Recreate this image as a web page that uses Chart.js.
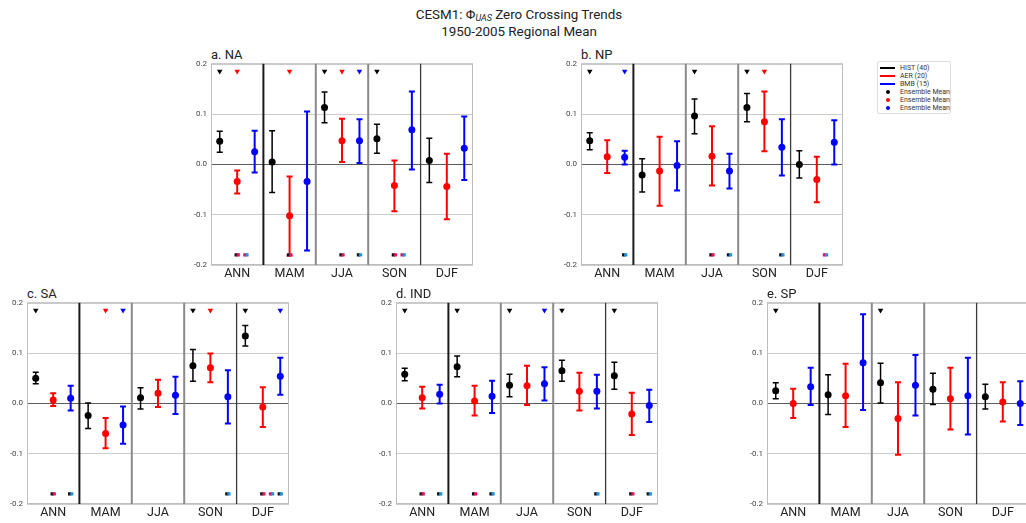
<!DOCTYPE html>
<html>
<head>
<meta charset="utf-8">
<script src="https://cdn.jsdelivr.net/npm/chart.js@4.4.0/dist/chart.umd.min.js"></script>
<style>
  html, body { margin: 0; padding: 0; background: #fff; overflow: hidden; }
  body { width: 1026px; height: 523px; position: relative; font-family: Roboto, "DejaVu Sans", sans-serif; color: #222; }
  .title { position: absolute; left: 319px; width: 400px; top: 7px; text-align: center; font-size: 13.4px; line-height: 16.5px; }
  .title sub { font-size: 9px; vertical-align: -2px; line-height: 0; }
  .panel-name { position: absolute; font-size: 13px; line-height: 13px; white-space: nowrap; }
  canvas { position: absolute; }
  .legend { position: absolute; left: 877px; top: 61px; width: 74px; height: 53px; border: 1px solid #dcdcdc; border-radius: 2px;
            box-sizing: border-box; padding-top: 2px; font-size: 7px; color: #333; }
  .legend .row { position: relative; height: 8px; line-height: 8px; padding-left: 22px; white-space: nowrap; }
  .legend .ln { position: absolute; left: 2px; top: 3px; width: 15px; height: 2px; }
  .legend .dot { position: absolute; left: 8px; top: 2px; width: 4px; height: 4px; border-radius: 50%; }
</style>
</head>
<body>
<div class="title">CESM1: Φ<sub><i>UAS</i></sub> Zero Crossing Trends<br>1950-2005 Regional Mean</div>

<div class="legend">
  <div class="row"><span class="ln" style="background:#000"></span>HIST (40)</div>
  <div class="row"><span class="ln" style="background:#ff0000"></span>AER (20)</div>
  <div class="row"><span class="ln" style="background:#0000ff"></span>BMB (15)</div>
  <div class="row"><span class="dot" style="background:#000"></span>Ensemble Mean</div>
  <div class="row"><span class="dot" style="background:#ff0000"></span>Ensemble Mean</div>
  <div class="row"><span class="dot" style="background:#0000ff"></span>Ensemble Mean</div>
</div>

<script>
const seasons = ['ANN', 'MAM', 'JJA', 'SON', 'DJF'];
const yTicks = [-0.2, -0.1, 0.0, 0.1, 0.2];

// a. NA
const naHist = [0.046, 0.005, 0.113, 0.051, 0.008];
const naHistLo = [0.024, -0.056, 0.083, 0.022, -0.036];
const naHistHi = [0.066, 0.067, 0.144, 0.080, 0.052];
const naAer = [-0.034, -0.102, 0.047, -0.042, -0.044];
const naAerLo = [-0.058, -0.181, 0.005, -0.093, -0.109];
const naAerHi = [-0.012, -0.024, 0.091, 0.008, 0.021];
const naBmb = [0.025, -0.034, 0.047, 0.069, 0.032];
const naBmbLo = [-0.016, -0.171, 0.003, -0.010, -0.031];
const naBmbHi = [0.067, 0.105, 0.090, 0.145, 0.095];
const naSigHist = [1, 0, 1, 1, 0];
const naSigAer = [1, 1, 1, 0, 0];
const naSigBmb = [0, 0, 1, 0, 0];
const naDiffHistAer = [1, 1, 1, 1, 0];
const naDiffAerBmb = [1, 0, 0, 1, 0];
const naDiffHistBmb = [0, 0, 1, 0, 0];

// b. NP
const npHist = [0.047, -0.021, 0.096, 0.113, 0.000];
const npHistLo = [0.029, -0.055, 0.061, 0.085, -0.027];
const npHistHi = [0.063, 0.011, 0.130, 0.141, 0.027];
const npAer = [0.015, -0.013, 0.016, 0.085, -0.030];
const npAerLo = [-0.017, -0.082, -0.042, 0.026, -0.075];
const npAerHi = [0.048, 0.055, 0.076, 0.145, 0.015];
const npBmb = [0.014, -0.002, -0.013, 0.034, 0.044];
const npBmbLo = [0.000, -0.052, -0.048, -0.022, 0.000];
const npBmbHi = [0.027, 0.046, 0.021, 0.090, 0.088];
const npSigHist = [1, 0, 1, 1, 0];
const npSigAer = [0, 0, 0, 1, 0];
const npSigBmb = [1, 0, 0, 0, 0];
const npDiffHistAer = [0, 0, 1, 0, 0];
const npDiffAerBmb = [0, 0, 0, 0, 1];
const npDiffHistBmb = [1, 0, 1, 1, 0];

// c. SA
const saHist = [0.050, -0.024, 0.011, 0.075, 0.134];
const saHistLo = [0.039, -0.050, -0.011, 0.044, 0.114];
const saHistHi = [0.062, 0.001, 0.031, 0.107, 0.155];
const saAer = [0.007, -0.060, 0.020, 0.071, -0.007];
const saAerLo = [-0.005, -0.089, -0.007, 0.042, -0.047];
const saAerHi = [0.020, -0.029, 0.047, 0.099, 0.032];
const saBmb = [0.010, -0.043, 0.016, 0.013, 0.054];
const saBmbLo = [-0.014, -0.080, -0.021, -0.040, 0.017];
const saBmbHi = [0.035, -0.006, 0.053, 0.066, 0.091];
const saSigHist = [1, 0, 0, 1, 1];
const saSigAer = [0, 1, 0, 1, 0];
const saSigBmb = [0, 1, 0, 0, 1];
const saDiffHistAer = [1, 0, 0, 0, 1];
const saDiffAerBmb = [0, 0, 0, 0, 1];
const saDiffHistBmb = [1, 0, 0, 1, 1];

// d. IND
const indHist = [0.058, 0.073, 0.036, 0.065, 0.055];
const indHistLo = [0.045, 0.053, 0.013, 0.044, 0.028];
const indHistHi = [0.070, 0.094, 0.058, 0.086, 0.082];
const indAer = [0.011, 0.005, 0.035, 0.024, -0.021];
const indAerLo = [-0.010, -0.024, -0.003, -0.014, -0.063];
const indAerHi = [0.033, 0.035, 0.075, 0.061, 0.021];
const indBmb = [0.018, 0.014, 0.039, 0.024, -0.004];
const indBmbLo = [0.000, -0.019, 0.006, -0.010, -0.037];
const indBmbHi = [0.037, 0.045, 0.072, 0.057, 0.027];
const indSigHist = [1, 1, 1, 1, 1];
const indSigAer = [0, 0, 0, 0, 0];
const indSigBmb = [0, 0, 1, 0, 0];
const indDiffHistAer = [1, 1, 0, 0, 1];
const indDiffAerBmb = [0, 0, 0, 0, 0];
const indDiffHistBmb = [1, 1, 0, 1, 1];

// e. SP
const spHist = [0.025, 0.017, 0.041, 0.028, 0.013];
const spHistLo = [0.009, -0.022, 0.001, -0.002, -0.011];
const spHistHi = [0.041, 0.057, 0.080, 0.060, 0.038];
const spAer = [0.000, 0.015, -0.030, 0.009, 0.003];
const spAerLo = [-0.029, -0.047, -0.102, -0.052, -0.036];
const spAerHi = [0.029, 0.079, 0.042, 0.071, 0.042];
const spBmb = [0.033, 0.081, 0.036, 0.015, 0.000];
const spBmbLo = [-0.003, -0.013, -0.024, -0.062, -0.043];
const spBmbHi = [0.071, 0.177, 0.096, 0.091, 0.044];
const spSigHist = [1, 0, 1, 0, 0];
const spSigAer = [0, 0, 0, 0, 0];
const spSigBmb = [0, 0, 0, 0, 0];
const spDiffHistAer = [0, 0, 0, 0, 0];
const spDiffAerBmb = [0, 0, 0, 0, 0];
const spDiffHistBmb = [0, 0, 0, 0, 0];

// HIST, AER, BMB
const colors = ['#000000', '#ff0000', '#0000ff'];
const offsets = [-1 / 3, 0, 1 / 3];
const barWidths = [1.5, 2, 2];
// difference markers: hist-aer, aer-bmb, hist-bmb
const pairShift = [0, 1 / 6, 1 / 3];
const pairColors = [['#111111', '#d9155f'], ['#d9155f', '#1f8fd8'], ['#111111', '#1f8fd8']];
const TRI_Y = 0.185;
const SQ_Y = -0.18;

const panels = [
  { name: 'a. NA', left: 211, top: 61,
    series: [[naHist, naHistLo, naHistHi], [naAer, naAerLo, naAerHi], [naBmb, naBmbLo, naBmbHi]],
    sig: [naSigHist, naSigAer, naSigBmb], diff: [naDiffHistAer, naDiffAerBmb, naDiffHistBmb] },
  { name: 'b. NP', left: 581, top: 61,
    series: [[npHist, npHistLo, npHistHi], [npAer, npAerLo, npAerHi], [npBmb, npBmbLo, npBmbHi]],
    sig: [npSigHist, npSigAer, npSigBmb], diff: [npDiffHistAer, npDiffAerBmb, npDiffHistBmb] },
  { name: 'c. SA', left: 27, top: 300,
    series: [[saHist, saHistLo, saHistHi], [saAer, saAerLo, saAerHi], [saBmb, saBmbLo, saBmbHi]],
    sig: [saSigHist, saSigAer, saSigBmb], diff: [saDiffHistAer, saDiffAerBmb, saDiffHistBmb] },
  { name: 'd. IND', left: 396, top: 300,
    series: [[indHist, indHistLo, indHistHi], [indAer, indAerLo, indAerHi], [indBmb, indBmbLo, indBmbHi]],
    sig: [indSigHist, indSigAer, indSigBmb], diff: [indDiffHistAer, indDiffAerBmb, indDiffHistBmb] },
  { name: 'e. SP', left: 767, top: 300,
    series: [[spHist, spHistLo, spHistHi], [spAer, spAerLo, spAerHi], [spBmb, spBmbLo, spBmbHi]],
    sig: [spSigHist, spSigAer, spSigBmb], diff: [spDiffHistAer, spDiffAerBmb, spDiffHistBmb] }
];

const PLOT_W = 265, PLOT_H = 204;
const AXIS_W = 30, AXIS_H = 22, PAD_TOP = 6, PAD_RIGHT = 3;

// season separators and the box around each panel
const seasonLines = [
  { x: 0.5, color: '#1a1a1a', width: 2 },
  { x: 1.5, color: '#8a8a8a', width: 2 },
  { x: 2.5, color: '#8a8a8a', width: 2 },
  { x: 3.5, color: '#3a3a3a', width: 1.3 }
];
const framePlugin = {
  id: 'frame',
  beforeDatasetsDraw(chart) {
    const { ctx, chartArea: a, scales: { x } } = chart;
    ctx.save();
    ctx.strokeStyle = '#bdbdbd';
    ctx.lineWidth = 1;
    ctx.strokeRect(a.left + 0.5, a.top + 0.5, a.right - a.left - 1, a.bottom - a.top - 1);
    seasonLines.forEach(l => {
      const px = x.getPixelForValue(l.x);
      ctx.strokeStyle = l.color;
      ctx.lineWidth = l.width;
      ctx.beginPath();
      ctx.moveTo(px, a.top);
      ctx.lineTo(px, a.bottom);
      ctx.stroke();
    });
    ctx.restore();
  }
};

function buildDatasets(p) {
  const sets = [];
  // difference squares, drawn two-tone at the bottom
  p.diff.forEach((flags, k) => {
    pairColors[k].forEach((c, h) => {
      const d = [];
      flags.forEach((f, i) => { if (f) d.push({ x: i + pairShift[k] + (h ? 0.02 : -0.02), y: SQ_Y }); });
      sets.push({ data: d, showLine: false, pointStyle: 'rect', pointRadius: 2.3,
                  pointBackgroundColor: c, pointBorderWidth: 0, order: h ? 0 : 1 });
    });
  });
  p.series.forEach(([mean, lo, hi], s) => {
    const x0 = offsets[s];
    // significance triangles
    const tri = [];
    p.sig[s].forEach((f, i) => { if (f) tri.push({ x: i + x0, y: TRI_Y }); });
    sets.push({ data: tri, showLine: false, pointStyle: 'triangle', rotation: 180, pointRadius: 3.2,
                pointBackgroundColor: colors[s], pointBorderWidth: 0, order: 0 });
    // ensemble means
    sets.push({ data: mean.map((v, i) => ({ x: i + x0, y: v })), showLine: false, pointStyle: 'circle',
                pointRadius: 3.5, pointBackgroundColor: colors[s], pointBorderWidth: 0, order: 0 });
    // spread bars with caps
    const bars = [];
    mean.forEach((v, i) => {
      bars.push({ x: i + x0, y: lo[i] }, { x: i + x0, y: hi[i] }, { x: i + x0, y: null });
    });
    sets.push({ data: bars, showLine: true, spanGaps: false, borderColor: colors[s], borderWidth: barWidths[s],
                pointStyle: 'line', pointRadius: 3, pointBorderColor: colors[s],
                pointBorderWidth: barWidths[s], order: 2 });
  });
  return sets;
}

panels.forEach(p => {
  const label = document.createElement('div');
  label.className = 'panel-name';
  label.style.left = p.left + 'px';
  label.style.top = (p.top - 13) + 'px';
  label.textContent = p.name;
  document.body.appendChild(label);

  const cv = document.createElement('canvas');
  cv.width = AXIS_W + PLOT_W + PAD_RIGHT;
  cv.height = PAD_TOP + PLOT_H + AXIS_H;
  cv.style.left = (p.left - AXIS_W) + 'px';
  cv.style.top = (p.top - PAD_TOP) + 'px';
  document.body.appendChild(cv);

  new Chart(cv.getContext('2d'), {
    type: 'line',
    data: { datasets: buildDatasets(p) },
    options: {
      responsive: false,
      animation: false,
      events: [],
      layout: { padding: { top: PAD_TOP, right: PAD_RIGHT, left: 0, bottom: 0 } },
      plugins: { legend: { display: false }, tooltip: { enabled: false } },
      scales: {
        x: {
          type: 'linear', min: -0.5, max: 4.5,
          afterBuildTicks: s => { s.ticks = seasons.map((_, i) => ({ value: i })); },
          afterFit: s => { s.height = AXIS_H; },
          grid: { display: false, drawTicks: false },
          border: { display: false },
          ticks: { padding: 1, color: '#222', font: { family: 'Roboto', size: 12.5 },
                   callback: v => seasons[v] }
        },
        y: {
          min: -0.2, max: 0.2,
          afterBuildTicks: s => { s.ticks = yTicks.map(v => ({ value: v })); },
          afterFit: s => { s.width = AXIS_W; },
          grid: { drawTicks: false, lineWidth: 1,
                  color: c => Math.abs(c.tick.value) < 1e-9 ? '#5c5c5c' : '#cccccc' },
          border: { display: false },
          ticks: { padding: 4, color: '#444', font: { family: 'Roboto', size: 8 },
                   callback: v => v.toFixed(1) }
        }
      }
    },
    plugins: [framePlugin]
  });
});
</script>
</body>
</html>
